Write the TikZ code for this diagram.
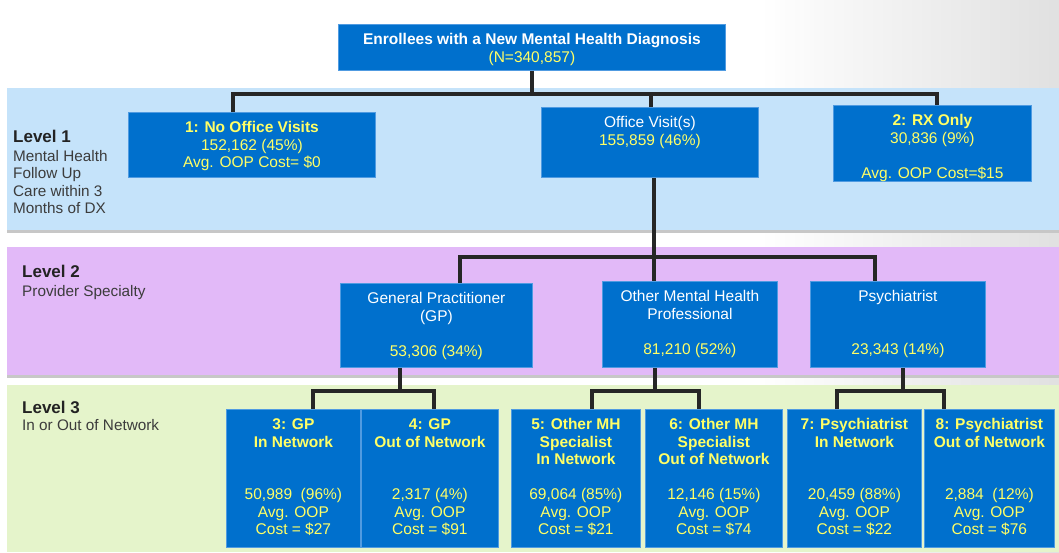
\documentclass[tikz,border=0pt]{standalone}
\usepackage{fontspec}
\setmainfont{Liberation Sans}
\definecolor{boxblue}{RGB}{0,112,205}
\definecolor{boxedge}{RGB}{80,155,225}
\definecolor{yel}{RGB}{255,255,102}
\definecolor{bandone}{RGB}{197,227,250}
\definecolor{bandtwo}{RGB}{226,185,248}
\definecolor{bandthree}{RGB}{229,244,203}
\definecolor{lvltext}{RGB}{35,35,35}
\definecolor{desctext}{RGB}{60,60,60}
\newcommand{\boxcell}[3]{\parbox[c][#2pt][t]{#1pt}{\centering\vspace*{8pt}\strut#3}}
\begin{document}
\begin{tikzpicture}[x=1pt,y=-1pt,
	box/.style={draw=boxedge,line width=0.8pt,fill=boxblue,text=white,inner sep=0pt,anchor=north west,font=\fontsize{15.5}{17.5}\selectfont},
	conn/.style={line width=3.2pt,black!85,line join=miter},
	lvl/.style={anchor=west,inner sep=0pt,text=lvltext,font=\fontsize{17}{20}\selectfont\bfseries},
	lvldesc/.style={anchor=north west,inner sep=0pt,align=left,text=desctext,font=\fontsize{15.3}{17.5}\selectfont}]
	\useasboundingbox (0,0) rectangle (1059,552);
	\fill[white] (0,0) rectangle (1059,552);
	\shade[left color=white,right color=black!12] (760,0) rectangle (1059,552);
	\fill[black!22] (7,88) rectangle (1059,233);
	\fill[bandone] (7,88) rectangle (1059,230);
	\fill[black!22] (7,247) rectangle (1059,378);
	\fill[bandtwo] (7,247) rectangle (1059,375);
	\fill[bandthree] (7,385) rectangle (1059,552);

	\node[lvl] (l1) at (13,136) {Level 1};
	\node[lvldesc] (d1) at (13,150) {Mental Health\\Follow Up\\Care within 3\\Months of DX};
	\node[lvl] (l2) at (22,271) {Level 2};
	\node[lvldesc] (d2) at (22,285) {Provider Specialty};
	\node[lvl] (l3) at (22,407) {Level 3};
	\node[lvldesc] (d3) at (22,419) {In or Out of Network};

	\node[box] (top) at (338,24) {\boxcell{387}{46}{\textbf{Enrollees with a New Mental Health Diagnosis}\\\textcolor{yel}{(N=340,857)}}};
	\node[box] (b1) at (128,112) {\boxcell{247}{65}{\textcolor{yel}{\textbf{1: No Office Visits}\\152,162 (45\%)\\Avg. OOP Cost= \$0}}};
	\node[box] (ov) at (541,107) {\boxcell{217}{70}{Office Visit(s)\\\textcolor{yel}{155,859 (46\%)}}};
	\node[box] (rx) at (833,105) {\boxcell{198}{76}{\textcolor{yel}{\textbf{2: RX Only}\\30,836 (9\%)\\[17.5pt]Avg. OOP Cost=\$15}}};

	\node[box] (gp) at (340,283) {\boxcell{192}{84}{General Practitioner\\(GP)\\[17.5pt]\textcolor{yel}{53,306 (34\%)}}};
	\node[box] (omh) at (602,281) {\boxcell{175}{86}{Other Mental Health\\Professional\\[17.5pt]\textcolor{yel}{81,210 (52\%)}}};
	\node[box] (psy) at (810,281) {\boxcell{175}{86}{Psychiatrist\\[35pt]\textcolor{yel}{23,343 (14\%)}}};

	\node[box] (g3) at (226,409) {\boxcell{134}{138}{\textcolor{yel}{\textbf{3: GP\\In Network}\\[35pt]50,989\ \ (96\%)\\Avg. OOP\\Cost = \$27}}};
	\node[box] (g4) at (361,409) {\boxcell{137}{138}{\textcolor{yel}{\textbf{4: GP\\Out of Network}\\[35pt]2,317 (4\%)\\Avg. OOP\\Cost = \$91}}};
	\node[box] (m5) at (511,409) {\boxcell{129}{138}{\textcolor{yel}{\textbf{5: Other MH\\Specialist\\In Network}\\[17.5pt]69,064 (85\%)\\Avg. OOP\\Cost = \$21}}};
	\node[box] (m6) at (645,409) {\boxcell{137}{138}{\textcolor{yel}{\textbf{6: Other MH\\Specialist\\Out of Network}\\[17.5pt]12,146 (15\%)\\Avg. OOP\\Cost = \$74}}};
	\node[box] (p7) at (787,409) {\boxcell{134}{138}{\textcolor{yel}{\textbf{7: Psychiatrist\\In Network}\\[35pt]20,459 (88\%)\\Avg. OOP\\Cost = \$22}}};
	\node[box] (p8) at (924,409) {\boxcell{130}{138}{\textcolor{yel}{\textbf{8: Psychiatrist\\Out of Network}\\[35pt]2,884\ \ (12\%)\\Avg. OOP\\Cost = \$76}}};

	\draw[conn] (top.south) -- (top.south |- 0,94);
	\draw[conn] (b1.north -| 233,0) -- (233,94) -- (937,94) -- (rx.north -| 937,0);
	\draw[conn] (ov.north -| 651,0) -- (651,94);
	\draw[conn] (ov.south -| 654,0) -- (omh.north -| 654,0);
	\draw[conn] (gp.north -| 460,0) -- (460,257) -- (875,257) -- (psy.north -| 875,0);
	\draw[conn] (gp.south -| 400,0) -- (400,391);
	\draw[conn] (g3.north -| 313,0) -- (313,391) -- (434,391) -- (g4.north -| 434,0);
	\draw[conn] (omh.south -| 655,0) -- (655,391);
	\draw[conn] (m5.north -| 592,0) -- (592,391) -- (699,391) -- (m6.north -| 699,0);
	\draw[conn] (psy.south -| 903,0) -- (903,391);
	\draw[conn] (p7.north -| 837,0) -- (837,391) -- (944,391) -- (p8.north -| 944,0);
\end{tikzpicture}
\end{document}
